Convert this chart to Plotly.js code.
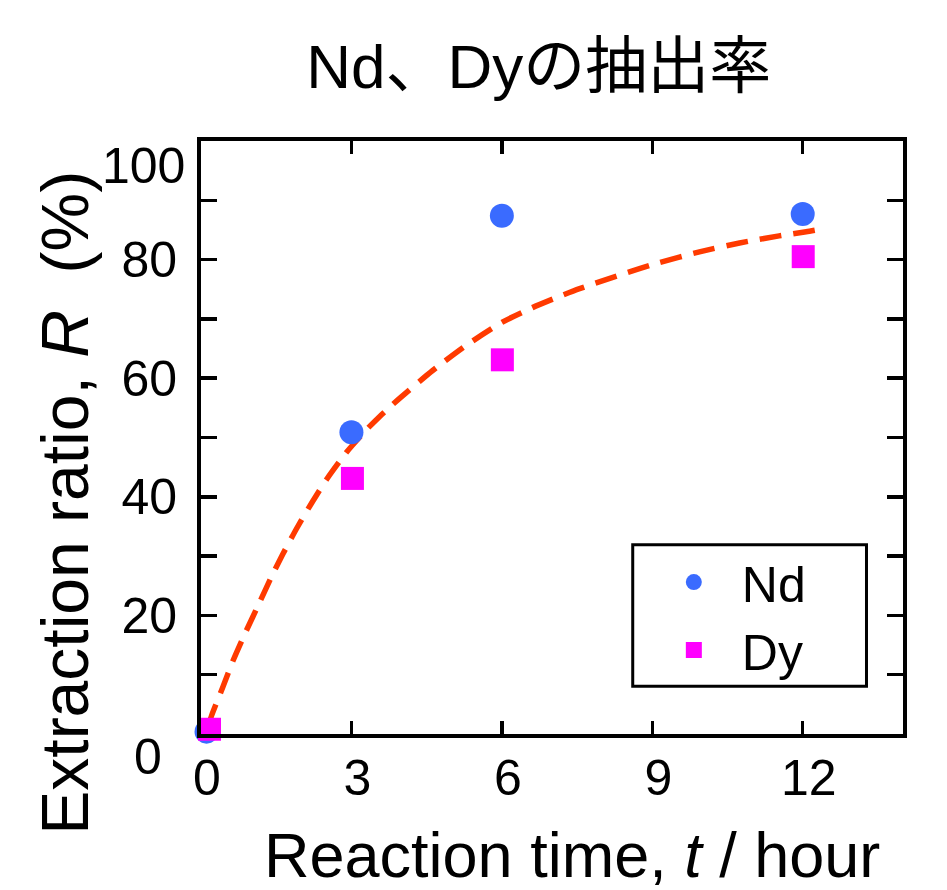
<!DOCTYPE html>
<html>
<head>
<meta charset="utf-8">
<script src="https://cdn.plot.ly/plotly-3.0.1.min.js"></script>
<style>html,body{margin:0;padding:0;background:#fff;}#chart{width:947px;height:890px;}</style>
</head>
<body>
<div id="chart"></div>
<script>
// ---- data ----
const ndTime = [0.11, 3, 6, 12];
const ndRatio = [0.4, 50.9, 87.4, 87.7];
const dyTime = [0.17, 3.02, 6.01, 12.01];
const dyRatio = [0.8, 43.1, 63.1, 80.5];
// fitted curve
const fitTime = [0.15, 0.22, 0.44, 0.64, 0.88, 1.18, 1.41, 1.63, 1.91, 2.21, 2.51, 2.91, 3.31, 3.57, 3.96, 4.62, 5.30, 6.02, 6.61, 7.15, 7.55, 8.35, 9.14, 9.94, 10.74, 11.53, 12.07, 12.27];
const fitRatio = [1.5, 3.3, 8.0, 12.4, 17.0, 22.4, 26.6, 30.3, 34.7, 39.0, 43.0, 47.6, 51.4, 53.6, 56.6, 61.3, 65.6, 69.5, 71.9, 73.8, 75.1, 77.4, 79.5, 81.3, 82.8, 84.0, 84.7, 85.0];
const xTickVals = [0, 3, 6, 9, 12];
const xTickText = ['0', '3', '6', '9', '12'];
const yTickVals = [0, 10, 20, 30, 40, 50, 60, 70, 80, 90, 100];
const yTickText = ['', '', '20', '', '40', '', '60', '', '80', '', ''];
const yEndVals = [0, 100];
const yEndText = ['0', '100'];
const seriesNames = ['Nd', 'Dy'];
const chartTitle = 'Nd、Dyの抽出率';
const xTitle = 'Reaction time, <i>t</i> / hour';
const yTitle = 'Extraction ratio, <i>R</i>\u00a0 (%)';

const FONT = 'Liberation Sans, Arial, Noto Sans CJK JP, sans-serif';

const traces = [
  {
    x: fitTime, y: fitRatio, type: 'scatter', mode: 'lines',
    line: {color: '#ff3a00', width: 5.5, dash: '22px,12px', shape: 'spline', smoothing: 0.6},
    showlegend: false, hoverinfo: 'skip', cliponaxis: false
  },
  {
    x: ndTime, y: ndRatio, type: 'scatter', mode: 'markers', name: seriesNames[0],
    marker: {symbol: 'circle', size: 24, color: '#3a6bff'}, cliponaxis: false
  },
  {
    x: dyTime, y: dyRatio, type: 'scatter', mode: 'markers', name: seriesNames[1],
    marker: {symbol: 'square', size: 23, color: '#ff00ff'}, cliponaxis: false
  }
];

// y end labels offset like the reference
const annotations = [
  {xref: 'paper', yref: 'y', x: 0, y: yEndVals[1], text: yEndText[1], showarrow: false,
   xanchor: 'right', yanchor: 'middle', xshift: -14, yshift: -25, font: {family: FONT, size: 50, color: '#000'}},
  {xref: 'paper', yref: 'y', x: 0, y: yEndVals[0], text: yEndText[0], showarrow: false,
   xanchor: 'center', yanchor: 'middle', xshift: -53, yshift: -23, font: {family: FONT, size: 50, color: '#000'}},
  {xref: 'paper', yref: 'paper', x: 0.528, y: 0, text: xTitle, showarrow: false,
   xanchor: 'center', yanchor: 'top', yshift: -84, font: {family: FONT, size: 63, color: '#000'}},
  {xref: 'paper', yref: 'paper', x: 0, y: 0.39, text: yTitle, showarrow: false, textangle: -90,
   xanchor: 'center', yanchor: 'middle', xshift: -136, font: {family: FONT, size: 66, color: '#000'}}
];

// legend frame drawn as a rectangle in paper space
const shapes = [
  {type: 'rect', xref: 'paper', yref: 'paper', x0: 0.615, x1: 0.948, y0: 0.0805, y1: 0.319,
   line: {color: '#000', width: 3}, fillcolor: 'rgba(0,0,0,0)', layer: 'above'}
];

const axisCommon = {
  showline: true, linecolor: '#000', linewidth: 4, mirror: 'ticks',
  ticks: 'inside', tickcolor: '#000', tickwidth: 3.5,
  showgrid: false, zeroline: false, tickmode: 'array',
  tickfont: {family: FONT, size: 50, color: '#000'}
};

const layout = {
  width: 947, height: 890,
  margin: {l: 201, r: 44, t: 141, b: 156},
  paper_bgcolor: '#fff', plot_bgcolor: '#fff',
  font: {family: FONT, color: '#000'},
  title: {text: chartTitle, font: {family: FONT, size: 62, color: '#000'},
          x: 0.569, xanchor: 'center', y: 0.925, yanchor: 'middle'},
  xaxis: Object.assign({}, axisCommon, {
    range: [0, 14], tickvals: xTickVals, ticktext: xTickText, ticklen: 13,
    ticklabelstandoff: -3, ticklabelshift: 6
  }),
  yaxis: Object.assign({}, axisCommon, {
    range: [0, 100], tickvals: yTickVals, ticktext: yTickText, ticklen: 16, ticklabelstandoff: 10
  }),
  showlegend: true,
  legend: {
    x: 0.618, y: 0.322, xanchor: 'left', yanchor: 'top',
    bgcolor: 'rgba(0,0,0,0)', borderwidth: 0,
    font: {family: FONT, size: 50, color: '#000'},
    indentation: 11, itemwidth: 86
  },
  shapes: shapes,
  annotations: annotations
};

Plotly.newPlot('chart', traces, layout, {displayModeBar: false, staticPlot: true});
</script>
</body>
</html>
